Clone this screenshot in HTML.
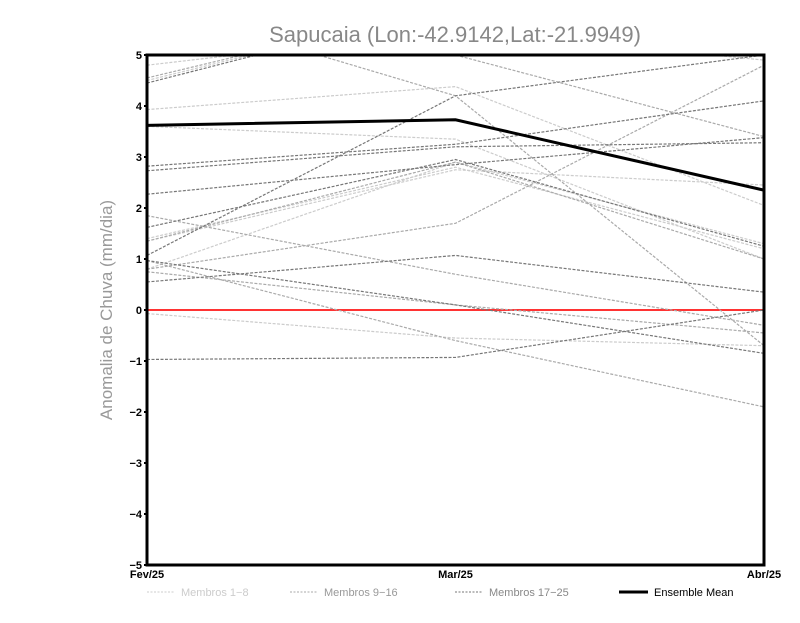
<!DOCTYPE html>
<html><head><meta charset="utf-8"><style>
body{margin:0;background:#fff;width:800px;height:618px;overflow:hidden}
svg text{font-family:"Liberation Sans",sans-serif}
</style></head><body>
<svg id="c" width="800" height="618">
<defs><clipPath id="clip"><rect x="147" y="55" width="617" height="510"/></clipPath></defs>
<text x="455" y="42" text-anchor="middle" font-size="22" fill="#888">Sapucaia (Lon:-42.9142,Lat:-21.9949)</text>
<text transform="translate(112,310) rotate(-90)" text-anchor="middle" font-size="17" fill="#999">Anomalia de Chuva (mm/dia)</text>
<g id="series" clip-path="url(#clip)"></g>
<g id="axes"></g>
<g font-size="11">
<line x1="147" y1="592" x2="175" y2="592" stroke="#ccc" stroke-dasharray="2,1.5"/>
<text x="181" y="596" fill="#ccc">Membros 1−8</text>
<line x1="290" y1="592" x2="318" y2="592" stroke="#aaa" stroke-dasharray="2,1.5"/>
<text x="324" y="596" fill="#999">Membros 9−16</text>
<line x1="455" y1="592" x2="483" y2="592" stroke="#777" stroke-dasharray="2,1.5"/>
<text x="489" y="596" fill="#888">Membros 17−25</text>
<line x1="619" y1="592" x2="648" y2="592" stroke="#000" stroke-width="3"/>
<text x="654" y="596" fill="#000">Ensemble Mean</text>
</g>
</svg>
<script>
const categories=["Fev/25","Mar/25","Abr/25"];
const yTicks=[-5,-4,-3,-2,-1,0,1,2,3,4,5];
const members1_8=[[3.93,4.38,2.05],[4.8,5.5,4.9],[1.4,2.8,1.2],[-0.07,-0.55,-0.7],[3.6,3.35,1.0],[4.5,6,5.5],[1.35,2.75,2.45],[0.8,2.9,1.3]];
const members9_16=[[1.85,0.7,-0.3],[0.97,-0.6,-1.9],[0.8,1.7,4.8],[4.55,6,5.5],[6,4.2,-0.7],[5.6,5.0,3.4],[0.75,0.1,-0.45],[1.35,2.9,1.0]];
const members17_25=[[2.82,3.25,4.1],[2.73,3.2,3.28],[2.27,2.85,3.38],[1.62,2.95,1.25],[1.07,4.2,5.0],[0.55,1.07,0.35],[-0.97,-0.93,0.0],[4.45,6,5.5],[0.97,0.1,-0.85]];
const ensembleMean=[3.62,3.73,2.35];
const X0=147,X1=764,Y0=565,Y1=55;
const xs=i=>X0+(X1-X0)*i/(categories.length-1);
const ys=v=>Y0-(v+5)/10*(Y0-Y1);
const NS="http://www.w3.org/2000/svg";
const sg=document.getElementById('series'),ag=document.getElementById('axes');
function mk(tag,at,p){const e=document.createElementNS(NS,tag);for(const k in at)e.setAttribute(k,at[k]);p.appendChild(e);return e;}
function pts(a){return a.map((v,i)=>xs(i)+','+ys(v)).join(' ');}
const zl=mk('line',{x1:X0,x2:X1,y1:ys(0),y2:ys(0),stroke:'#f33','stroke-width':2},sg);


[[members1_8,'#ccc','member-a'],[members9_16,'#aaa','member-b'],[members17_25,'#777','member-c']].forEach(([arr,col,nm])=>{
 arr.forEach((a,j)=>{const l=mk('polyline',{points:pts(a),fill:'none',stroke:col,'stroke-width':1.2,'stroke-dasharray':'3,1.5'},sg);
 
 });
});
const m=mk('polyline',{points:pts(ensembleMean),fill:'none',stroke:'#000','stroke-width':3},sg);


const fr=mk('rect',{x:X0,y:Y1,width:X1-X0,height:Y0-Y1,fill:'none',stroke:'#000','stroke-width':3},ag);


yTicks.forEach(t=>{const tx=mk('text',{x:X0-5,y:ys(t)+4,'text-anchor':'end','font-size':11,'font-weight':'bold'},ag);tx.textContent=t<0?'−'+(-t):t;
 
 
 const tk=mk('line',{x1:X0-3,x2:X0,y1:ys(t),y2:ys(t),stroke:'#000','stroke-width':2},ag);
 
 });
categories.forEach((c,i)=>{const tx=mk('text',{x:xs(i),y:Y0+13,'text-anchor':'middle','font-size':11,'font-weight':'bold'},ag);tx.textContent=c;
 
 });
</script>
</body></html>
